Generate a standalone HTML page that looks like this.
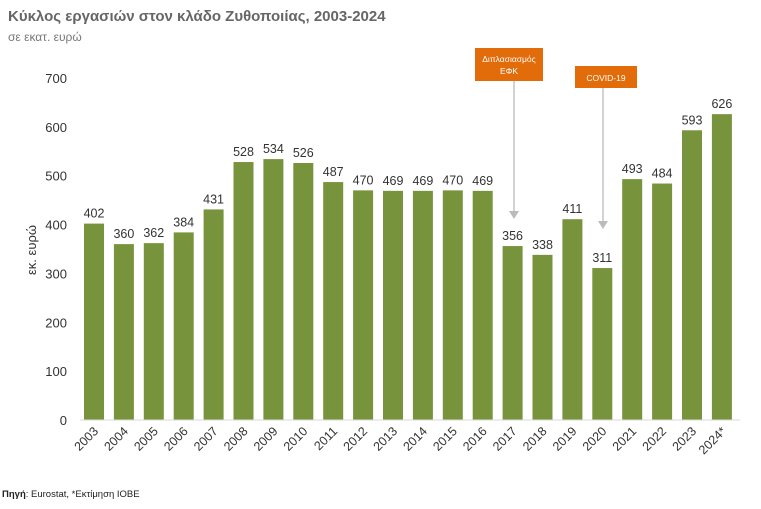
<!DOCTYPE html>
<html><head><meta charset="utf-8"><style>
body{margin:0;background:#fff;width:761px;height:504px;overflow:hidden;font-family:"Liberation Sans","DejaVu Sans",sans-serif}
</style></head><body>
<svg width="761" height="504" xmlns="http://www.w3.org/2000/svg">
<text x="8" y="21" font-size="15" font-weight="bold" fill="#666">Κύκλος εργασιών στον κλάδο Ζυθοποιίας, 2003-2024</text>
<text x="8" y="41" font-size="12" fill="#777">σε εκατ. ευρώ</text>
<text transform="translate(36,250) rotate(-90)" text-anchor="middle" font-size="13" fill="#333">εκ. ευρώ</text>
<g id="yaxis"></g><g id="bars"></g>
<line x1="80" y1="420" x2="740" y2="420" stroke="#d9d9d9" stroke-width="1"/>
<g>
<line x1="514" y1="81" x2="514" y2="216" stroke="#bbb" stroke-width="1.3"/>
<path d="M509,211 L514,219 L519,211 Z" fill="#bbb"/>
<rect x="475" y="48" width="68" height="33" fill="#e26b0a"/>
<text x="509" y="62" font-size="8.5" fill="#fff" text-anchor="middle">Διπλασιασμός</text>
<text x="509" y="74" font-size="8.5" fill="#fff" text-anchor="middle">ΕΦΚ</text>
</g>
<g>
<line x1="603" y1="88" x2="603" y2="226" stroke="#bbb" stroke-width="1.3"/>
<path d="M598,221 L603,229 L608,221 Z" fill="#bbb"/>
<rect x="575" y="66" width="62" height="22" fill="#e26b0a"/>
<text x="606" y="81" font-size="8.5" fill="#fff" text-anchor="middle">COVID-19</text>
</g>
<text x="2" y="497" font-size="9.5" fill="#222"><tspan font-weight="bold">Πηγή</tspan>: Eurostat, *Εκτίμηση ΙΟΒΕ</text>
</svg>
<script>
const categories=["2003","2004","2005","2006","2007","2008","2009","2010","2011","2012","2013","2014","2015","2016","2017","2018","2019","2020","2021","2022","2023","2024*"];
const values=[402,360,362,384,431,528,534,526,487,470,469,469,470,469,356,338,411,311,493,484,593,626];
const yTicks=[0,100,200,300,400,500,600,700];
const NS="http://www.w3.org/2000/svg";
const y0=420,yTop=78,yMax=700,x0=94,pitch=29.9,bw=20;
function yS(v){return y0-(v/yMax)*(y0-yTop);}
function xS(i){return x0+i*pitch;}
function mk(t,a,p){const e=document.createElementNS(NS,t);for(const k in a)e.setAttribute(k,a[k]);p.appendChild(e);return e;}
const ya=document.getElementById('yaxis'),bg=document.getElementById('bars');
yTicks.forEach(v=>{const t=mk('text',{x:67,y:yS(v)+5,'text-anchor':'end','font-size':13,fill:'#333'},ya);


t.textContent=v;});
values.forEach((v,i)=>{const cx=xS(i);
const r=mk('rect',{x:cx-bw/2,y:yS(v),width:bw,height:y0-yS(v),fill:'#77933c'},bg);


const l=mk('text',{x:cx,y:yS(v)-6,'text-anchor':'middle','font-size':12.5,fill:'#333'},bg);


l.textContent=v;
const c=mk('text',{transform:`translate(${cx+5},${y0+12}) rotate(-45)`,'text-anchor':'end','font-size':12.5,fill:'#333'},bg);


c.textContent=categories[i];});
</script>
</body></html>
